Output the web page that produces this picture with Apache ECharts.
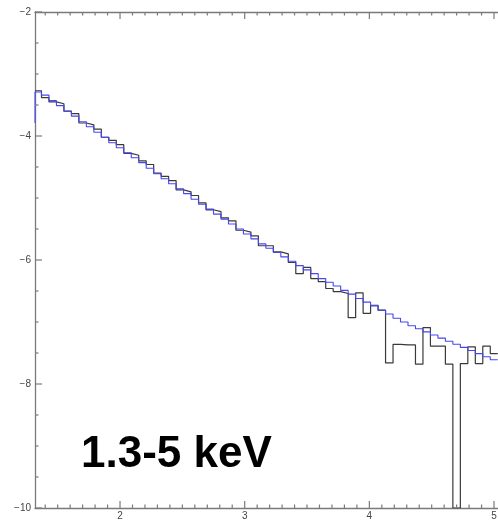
<!DOCTYPE html>
<html><head><meta charset="utf-8">
<script src="https://cdn.jsdelivr.net/npm/echarts@6/dist/echarts.min.js"></script>
<style>html,body{margin:0;padding:0;background:#fff}#c{width:498px;height:522px}</style>
</head><body><div id="c"></div>
<script>
// Energy bins (keV)
const binStart = 1.31;
const binWidth = 0.06;
// log model (blue) value at the left edge before the first bin
const modelStart = -3.79;
// model (blue) per bin
const model = [-3.29,-3.34,-3.43,-3.51,-3.60,-3.68,-3.77,-3.85,-3.94,-4.02,
  -4.11,-4.19,-4.27,-4.35,-4.43,-4.52,-4.61,-4.69,-4.77,-4.85,
  -4.93,-5.02,-5.10,-5.18,-5.26,-5.34,-5.42,-5.50,-5.58,-5.66,
  -5.74,-5.81,-5.88,-5.95,-6.02,-6.09,-6.16,-6.22,-6.30,-6.36,
  -6.42,-6.49,-6.55,-6.62,-6.68,-6.74,-6.81,-6.87,-6.94,-7.00,
  -7.06,-7.11,-7.16,-7.21,-7.26,-7.31,-7.36,-7.41,-7.46,-7.51,
  -7.56,-7.61];
// observed data (black) per bin
const observed = [-3.27,-3.38,-3.45,-3.48,-3.60,-3.64,-3.79,-3.82,-3.89,-4.02,
  -4.07,-4.14,-4.28,-4.31,-4.40,-4.46,-4.60,-4.65,-4.72,-4.87,
  -4.90,-4.96,-5.08,-5.19,-5.22,-5.32,-5.37,-5.52,-5.55,-5.61,
  -5.77,-5.77,-5.87,-5.90,-6.04,-6.22,-6.12,-6.30,-6.35,-6.46,
  -6.51,-6.54,-6.93,-6.53,-6.86,-6.73,-6.81,-7.66,-7.36,-7.37,
  -7.37,-7.68,-7.09,-7.39,-7.39,-7.68,-10.0,-7.67,-7.40,-7.67,
  -7.39,-7.51];
const xMin = 1.318, xMax = 5.032;
const yMin = -10, yMax = -2;
const xMajorTicks = [2, 3, 4, 5];
const yMajorTicks = [-10, -8, -6, -4, -2];
const bandLabel = '1.3-5 keV';

// minor tick values (0.1 keV on x, 0.5 on y)
const xMinorTicks = [];
for (let t = 14; t <= 50; t++) { if (t % 10 !== 0) xMinorTicks.push(t / 10); }
const yMinorTicks = [];
for (let t = -19; t <= -5; t++) { if (t % 4 !== 0) yMinorTicks.push(t / 2); }

function stepPoints(vals, startVal, startX) {
  const pts = [[startX, startVal]];
  vals.forEach((v, k) => { pts.push([+(binStart + binWidth * (k + 1)).toFixed(3), v]); });
  return pts;
}
const modelPts = stepPoints(model, modelStart, xMin);
const dataPts = stepPoints(observed, observed[0], xMin);

// tick marks: [x, y, side(0 bottom,1 top,2 left), length]
const MAJ = 7, MIN = 3.5;
const tickData = [];
xMajorTicks.forEach(v => { tickData.push([v, yMin, 0, MAJ]); tickData.push([v, yMax, 1, MAJ]); });
xMinorTicks.forEach(v => { tickData.push([v, yMin, 0, MIN]); tickData.push([v, yMax, 1, MIN]); });
yMajorTicks.forEach(v => { tickData.push([xMin, v, 2, MAJ]); });
yMinorTicks.forEach(v => { tickData.push([xMin, v, 2, MIN]); });

const W = 498, H = 522;
const axisColor = '#7a7a7a';
const fmt = v => (v < 0 ? '\u2212' + Math.abs(v) : String(v));
const labelStyle = { show: true, color: '#444', fontSize: 10, fontFamily: 'Liberation Sans, Arial, sans-serif', formatter: fmt };

const option = {
  animation: false,
  title: { text: bandLabel, left: 81, top: 433, padding: 0,
    textStyle: { color: '#000', fontSize: 44, fontWeight: 'bold', fontFamily: 'Liberation Sans, Arial, sans-serif' } },
  grid: { left: 35, right: 0, top: 12, bottom: 14, containLabel: false, outerBoundsMode: 'none' },
  xAxis: [
    { type: 'value', position: 'bottom', min: xMin, max: xMax,
      axisLine: { show: true, onZero: false, lineStyle: { color: axisColor, width: 1.3 } },
      axisTick: { show: false },
      axisLabel: Object.assign({ margin: 3, customValues: xMajorTicks }, labelStyle),
      splitLine: { show: false } },
    { type: 'value', position: 'top', min: xMin, max: xMax,
      axisLine: { show: true, onZero: false, lineStyle: { color: axisColor, width: 1.3 } },
      axisTick: { show: false }, axisLabel: { show: false }, splitLine: { show: false } }
  ],
  yAxis: [
    { type: 'value', position: 'left', min: yMin, max: yMax, interval: 2,
      axisLine: { show: true, onZero: false, lineStyle: { color: axisColor, width: 1.3 } },
      axisTick: { show: false },
      axisLabel: Object.assign({ margin: 4 }, labelStyle),
      splitLine: { show: false } }
  ],
  series: [
    { type: 'custom', name: 'ticks', data: tickData, clip: false, silent: true, z: 5,
      encode: { x: 0, y: 1 },
      renderItem: (params, api) => {
        const p = api.coord([api.value(0), api.value(1)]);
        const side = api.value(2), len = api.value(3);
        let x2 = p[0], y2 = p[1];
        if (side === 0) y2 = p[1] - len; else if (side === 1) y2 = p[1] + len; else x2 = p[0] + len;
        return { type: 'line', shape: { x1: p[0], y1: p[1], x2, y2 },
          style: { stroke: axisColor, lineWidth: 1.2 } };
      } },
    { type: 'line', step: 'start', data: modelPts, symbol: 'none', z: 3,
      lineStyle: { color: '#4747f0', width: 1.1 } },
    { type: 'line', step: 'start', data: dataPts, symbol: 'none', z: 2,
      lineStyle: { color: '#3a3a3a', width: 1.2 } }
  ]
};
const chart = echarts.init(document.getElementById('c'));
chart.setOption(option);
</script>
</body></html>
